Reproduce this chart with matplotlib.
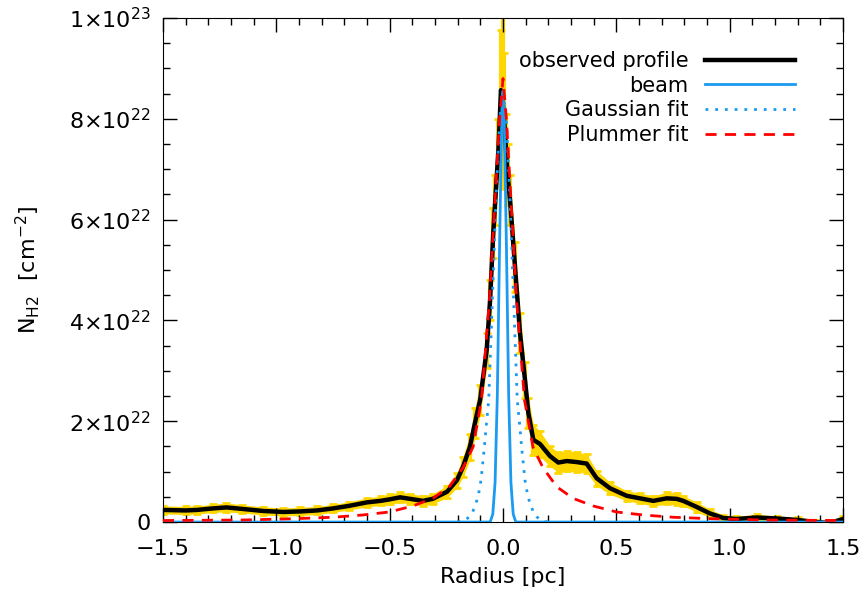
import numpy as np
import matplotlib.pyplot as plt
from matplotlib.ticker import MultipleLocator

# observed radial profile (radius in pc, column density in 1e22 cm^-2)
radius = [-1.50, -1.40, -1.35, -1.28, -1.22, -1.15, -1.06, -0.97, -0.895, -0.82,
          -0.75, -0.68, -0.60, -0.54, -0.50, -0.454, -0.41, -0.353, -0.31, -0.247,
          -0.203, -0.176, -0.146, -0.124, -0.101, -0.072, -0.057, -0.043, -0.034, -0.020,
          -0.009, -0.002, 0.005, 0.013, 0.020, 0.031, 0.053, 0.075, 0.097, 0.112,
          0.134, 0.163, 0.207, 0.244, 0.281, 0.325, 0.369, 0.413, 0.472, 0.546,
          0.604, 0.663, 0.722, 0.766, 0.795, 0.854, 0.913, 0.972, 1.03, 1.12,
          1.21, 1.30, 1.38, 1.44, 1.50]
nh2 = [0.24, 0.23, 0.24, 0.27, 0.29, 0.26, 0.22, 0.20, 0.21, 0.23,
       0.27, 0.32, 0.39, 0.42, 0.45, 0.49, 0.46, 0.42, 0.46, 0.60,
       0.83, 1.10, 1.49, 1.96, 2.42, 3.41, 4.40, 5.73, 6.39, 7.40,
       8.57, 8.40, 8.00, 7.40, 6.90, 6.39, 5.06, 3.75, 2.82, 2.16,
       1.63, 1.55, 1.31, 1.18, 1.21, 1.19, 1.16, 0.87, 0.67, 0.52,
       0.47, 0.42, 0.47, 0.46, 0.42, 0.30, 0.17, 0.08, 0.06, 0.09,
       0.07, 0.04, 0.00, -0.02, 0.06]
nh2_err = [0.08, 0.08, 0.08, 0.08, 0.09, 0.08, 0.08, 0.08, 0.08, 0.08,
           0.08, 0.08, 0.09, 0.09, 0.10, 0.10, 0.10, 0.10, 0.10, 0.12,
           0.15, 0.20, 0.25, 0.30, 0.30, 0.35, 0.40, 0.50, 0.50, 0.60,
           1.20, 1.80, 1.30, 0.70, 0.60, 0.50, 0.50, 0.40, 0.35, 0.30,
           0.30, 0.25, 0.20, 0.20, 0.20, 0.20, 0.18, 0.15, 0.12, 0.10,
           0.10, 0.10, 0.12, 0.12, 0.10, 0.10, 0.08, 0.06, 0.06, 0.06,
           0.05, 0.05, 0.05, 0.05, 0.05]

# beam profile
beam_r = [-1.5, -0.06, -0.055, -0.045, -0.035, -0.025, -0.015, -0.005, 0.0,
          0.005, 0.015, 0.025, 0.035, 0.045, 0.055, 0.06, 1.5]
beam = [0.0, 0.0, 0.02, 0.16, 0.78, 2.52, 5.51, 8.14, 8.55,
        8.14, 5.51, 2.52, 0.78, 0.16, 0.02, 0.0, 0.0]

# Gaussian fit
gauss_r = [-0.2, -0.18, -0.165, -0.149, -0.134, -0.119, -0.108, -0.097, -0.082, -0.075,
           -0.063, -0.047, -0.031, -0.015, 0.0, 0.015, 0.031, 0.047, 0.063, 0.075,
           0.082, 0.097, 0.108, 0.119, 0.134, 0.149, 0.165, 0.18, 0.2]
gauss = [0.0, 0.01, 0.04, 0.105, 0.2, 0.37, 0.55, 0.83, 1.49, 1.86,
         2.42, 4.4, 6.4, 8.0, 8.5, 8.0, 6.4, 4.4, 2.42, 1.86,
         1.49, 0.83, 0.55, 0.37, 0.2, 0.105, 0.04, 0.01, 0.0]

# Plummer fit
plum_r = [-1.5, -1.15, -0.926, -0.75, -0.618, -0.5, -0.397, -0.309, -0.237, -0.176,
          -0.132, -0.095, -0.06, -0.035, -0.015, 0.0, 0.015, 0.035, 0.06, 0.095,
          0.132, 0.176, 0.237, 0.309, 0.397, 0.5, 0.618, 0.75, 0.926, 1.15, 1.5]
plum = [0.03, 0.04, 0.065, 0.095, 0.14, 0.20, 0.32, 0.47, 0.70, 1.08,
        1.49, 2.42, 4.4, 6.4, 8.0, 8.8, 8.0, 6.4, 4.4, 2.42,
        1.49, 1.08, 0.70, 0.47, 0.32, 0.20, 0.14, 0.095, 0.065, 0.04, 0.03]

ytick_vals = [0, 2, 4, 6, 8, 10]
ytick_labels = ['0', r'$2{\times}10^{22}$', r'$4{\times}10^{22}$', r'$6{\times}10^{22}$',
                r'$8{\times}10^{22}$', r'$1{\times}10^{23}$']

plt.rcParams['font.family'] = 'DejaVu Sans'
plt.rcParams['mathtext.fontset'] = 'dejavusans'

fig = plt.figure(figsize=(8.65, 6.01), dpi=100)
ax = fig.add_axes([0.1884, 0.1314, 0.7862, 0.8386])

r = np.array(radius)
n = np.array(nh2) * 1e22
e = np.array(nh2_err) * 1e22

gold = '#FFD700'
ax.fill_between(r, n - e, n + e, color=gold, lw=0, zorder=1)
ax.errorbar(r, n, yerr=e, fmt='none', ecolor=gold, elinewidth=3, capsize=3,
            capthick=2, zorder=1)
ax.plot(r, n, color='black', lw=3.2, zorder=2, label='observed profile')
ax.plot(beam_r, np.array(beam) * 1e22, color='#1a9af0', lw=2, zorder=3, label='beam')
ax.plot(gauss_r, np.array(gauss) * 1e22, color='#1a9af0', lw=2, ls=(0, (1, 2.5)),
        zorder=4, label='Gaussian fit')
ax.plot(plum_r, np.array(plum) * 1e22, color='red', lw=2, ls=(0, (4, 3)),
        zorder=5, label='Plummer fit')

ax.set_xlim(-1.5, 1.5)
ax.set_ylim(0, 1e23)
ax.xaxis.set_minor_locator(MultipleLocator(0.1))
ax.set_xticks([-1.5, -1.0, -0.5, 0.0, 0.5, 1.0, 1.5])
ax.set_xticklabels(['\u22121.5', '\u22121.0', '\u22120.5', '0.0', '0.5', '1.0', '1.5'])
ax.set_yticks(np.array(ytick_vals) * 1e22)
ax.set_yticklabels(ytick_labels)
ax.yaxis.set_minor_locator(MultipleLocator(0.5e22))
ax.tick_params(which='both', direction='in', top=True, right=True, labelsize=16)
ax.tick_params(which='major', length=10, width=1)
ax.tick_params(which='minor', length=5, width=1)
ax.tick_params(axis='x', which='major', pad=12)
ax.tick_params(axis='y', which='major', pad=9)

ax.set_xlabel('Radius [pc]', fontsize=16)
ax.xaxis.set_label_coords(0.5, -0.09)
ax.set_ylabel(r'N$_{\rm H2}$  [cm$^{-2}$]', fontsize=16)
ax.yaxis.set_label_coords(-0.178, 0.5)

leg = ax.legend(loc='upper right', markerfirst=False, frameon=False, fontsize=15,
                handlelength=4.3, handletextpad=0.8, labelspacing=0.22,
                borderpad=0, bbox_to_anchor=(0.944, 0.955))

fig.savefig('out.png', dpi=100)
